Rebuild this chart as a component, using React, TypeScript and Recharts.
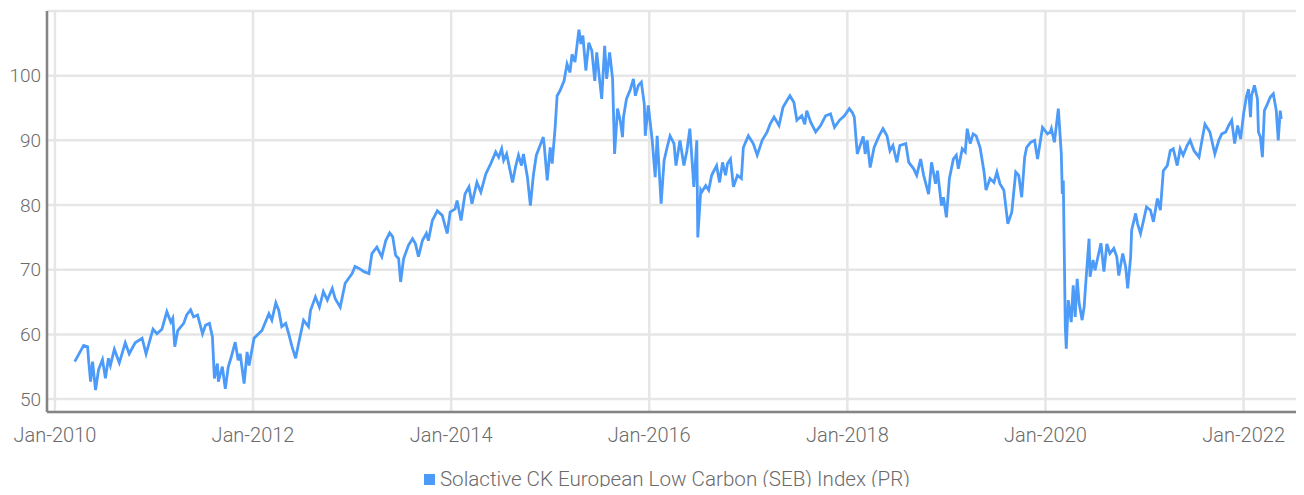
import { CartesianGrid, Legend, Line, LineChart, XAxis, YAxis } from 'recharts';

const SERIES_NAME = 'Solactive CK European Low Carbon (SEB) Index (PR)';
const LINE_BLUE = '#4c9bf8';
const INK = '#6b6b6b';
const GRID = '#e6e6e6';
const AXIS = '#858585';

const X_TICKS = [2010, 2012, 2014, 2016, 2018, 2020, 2022];
const Y_TICKS = [50, 60, 70, 80, 90, 100];

// observation dates as fractional years, one row per calendar year,
// with index levels in the same shape below
const dates = [
  2010.2, 2010.29, 2010.33, 2010.34, 2010.36, 2010.38, 2010.41, 2010.44, 2010.48, 2010.51, 2010.54, 2010.56, 2010.6, 2010.65, 2010.71, 2010.75, 2010.81, 2010.88, 2010.92, 2010.99,
  2011.03, 2011.08, 2011.13, 2011.17, 2011.19, 2011.21, 2011.24, 2011.3, 2011.33, 2011.37, 2011.4, 2011.44, 2011.49, 2011.52, 2011.56, 2011.59, 2011.61, 2011.64, 2011.65, 2011.69, 2011.72, 2011.75, 2011.78, 2011.82, 2011.85, 2011.87, 2011.91, 2011.94, 2011.96,
  2012.01, 2012.09, 2012.16, 2012.19, 2012.23, 2012.26, 2012.29, 2012.33, 2012.36, 2012.39, 2012.43, 2012.46, 2012.51, 2012.56, 2012.58, 2012.63, 2012.67, 2012.71, 2012.75, 2012.8, 2012.83, 2012.88, 2012.93,
  2013.0, 2013.03, 2013.07, 2013.12, 2013.17, 2013.2, 2013.25, 2013.3, 2013.34, 2013.38, 2013.41, 2013.44, 2013.47, 2013.49, 2013.52, 2013.57, 2013.61, 2013.64, 2013.67, 2013.71, 2013.75, 2013.77, 2013.81, 2013.86, 2013.91, 2013.96, 2013.99,
  2014.04, 2014.06, 2014.1, 2014.14, 2014.18, 2014.21, 2014.26, 2014.3, 2014.35, 2014.4, 2014.45, 2014.48, 2014.51, 2014.53, 2014.56, 2014.62, 2014.65, 2014.68, 2014.71, 2014.73, 2014.77, 2014.8, 2014.83, 2014.86, 2014.89, 2014.93, 2014.94, 2014.97,
  2015.0, 2015.02, 2015.05, 2015.07, 2015.1, 2015.14, 2015.17, 2015.2, 2015.22, 2015.25, 2015.29, 2015.31, 2015.33, 2015.36, 2015.39, 2015.42, 2015.45, 2015.47, 2015.5, 2015.52, 2015.55, 2015.57, 2015.6, 2015.63, 2015.65, 2015.68, 2015.71, 2015.73, 2015.74, 2015.77, 2015.81, 2015.84, 2015.86, 2015.89, 2015.92, 2015.95, 2015.96, 2015.99,
  2016.03, 2016.06, 2016.08, 2016.12, 2016.15, 2016.18, 2016.21, 2016.25, 2016.27, 2016.31, 2016.35, 2016.38, 2016.41, 2016.45, 2016.48, 2016.49, 2016.52, 2016.53, 2016.57, 2016.6, 2016.63, 2016.68, 2016.71, 2016.74, 2016.77, 2016.79, 2016.82, 2016.85, 2016.89, 2016.93, 2016.95,
  2017.0, 2017.05, 2017.09, 2017.14, 2017.19, 2017.22, 2017.26, 2017.31, 2017.35, 2017.38, 2017.42, 2017.46, 2017.49, 2017.54, 2017.57, 2017.59, 2017.63, 2017.68, 2017.73, 2017.78, 2017.83, 2017.87, 2017.92, 2017.97,
  2018.02, 2018.05, 2018.07, 2018.1, 2018.16, 2018.18, 2018.2, 2018.23, 2018.27, 2018.32, 2018.36, 2018.4, 2018.43, 2018.46, 2018.5, 2018.53, 2018.59, 2018.62, 2018.67, 2018.7, 2018.74, 2018.77, 2018.82, 2018.85, 2018.89, 2018.91, 2018.95, 2018.97,
  2019.0, 2019.03, 2019.07, 2019.1, 2019.12, 2019.16, 2019.19, 2019.21, 2019.24, 2019.27, 2019.3, 2019.34, 2019.38, 2019.4, 2019.44, 2019.48, 2019.51, 2019.54, 2019.58, 2019.62, 2019.66, 2019.7, 2019.73, 2019.76, 2019.79, 2019.81, 2019.85, 2019.89, 2019.92, 2019.97,
  2020.02, 2020.05, 2020.06, 2020.09, 2020.13, 2020.16, 2020.17, 2020.18, 2020.2, 2020.21, 2020.23, 2020.26, 2020.28, 2020.3, 2020.32, 2020.34, 2020.37, 2020.39, 2020.41, 2020.44, 2020.45, 2020.48, 2020.5, 2020.54, 2020.56, 2020.59, 2020.62, 2020.65, 2020.69, 2020.72, 2020.74, 2020.78, 2020.81, 2020.83, 2020.86, 2020.87, 2020.91, 2020.93, 2020.96, 2020.99,
  2021.02, 2021.06, 2021.09, 2021.13, 2021.16, 2021.19, 2021.23, 2021.26, 2021.29, 2021.33, 2021.36, 2021.39, 2021.43, 2021.46, 2021.5, 2021.55, 2021.58, 2021.61, 2021.66, 2021.71, 2021.75, 2021.78, 2021.82, 2021.85, 2021.88, 2021.91, 2021.94, 2021.97,
  2022.0, 2022.03, 2022.05, 2022.07, 2022.08, 2022.11, 2022.14, 2022.15, 2022.17, 2022.19, 2022.21, 2022.24, 2022.27, 2022.3, 2022.33, 2022.35, 2022.37, 2022.38,
];

const levels = [
  55.8, 58.3, 58.1, 56.0, 52.7, 55.8, 51.4, 54.5, 56.1, 53.2, 56.3, 55.2, 57.7, 55.6, 58.7, 57.0, 58.7, 59.4, 57.0, 60.8,
  60.1, 60.8, 63.5, 61.9, 62.5, 58.1, 60.6, 61.7, 63.0, 63.8, 62.7, 63.0, 60.1, 61.4, 61.7, 59.6, 53.2, 55.5, 52.7, 55.0, 51.6, 55.0, 56.5, 58.8, 56.0, 57.0, 52.4, 57.3, 55.2,
  59.4, 60.6, 63.2, 62.2, 64.9, 63.7, 61.2, 61.7, 60.1, 58.3, 56.3, 58.6, 62.2, 61.2, 63.7, 65.8, 64.2, 66.6, 65.3, 67.1, 65.5, 64.2, 67.9,
  69.4, 70.5, 70.2, 69.7, 69.4, 72.5, 73.5, 72.0, 74.5, 75.7, 75.1, 72.2, 71.7, 68.1, 71.7, 73.8, 74.8, 74.0, 72.0, 74.5, 75.6, 74.5, 77.6, 79.1, 78.4, 75.6, 78.9,
  79.4, 80.7, 77.6, 81.7, 82.8, 80.2, 83.5, 82.0, 84.8, 86.4, 88.2, 87.4, 88.7, 86.9, 87.9, 83.5, 85.9, 87.7, 86.1, 87.9, 84.3, 79.9, 84.6, 87.7, 88.9, 90.5, 89.2, 83.8,
  88.9, 86.4, 92.0, 96.9, 97.7, 99.2, 101.8, 100.5, 103.3, 102.1, 107.1, 104.9, 106.2, 100.8, 105.1, 103.9, 99.2, 103.6, 99.2, 96.4, 104.6, 99.5, 103.6, 99.5, 87.9, 94.9, 92.8, 90.5, 93.6, 96.4, 97.9, 99.5, 96.9, 98.5, 99.0, 95.6, 90.7, 95.4,
  90.0, 84.3, 90.7, 80.2, 86.9, 88.9, 90.7, 89.5, 86.1, 90.0, 86.1, 88.4, 91.8, 82.8, 90.0, 75.0, 82.3, 82.0, 83.0, 82.3, 84.6, 86.1, 83.5, 86.6, 84.6, 86.4, 87.1, 82.8, 84.6, 84.1, 88.9,
  90.7, 89.5, 87.7, 90.0, 91.3, 92.5, 93.6, 92.3, 95.1, 95.9, 96.9, 95.9, 93.1, 93.8, 92.5, 94.6, 92.8, 91.3, 92.3, 93.8, 94.1, 92.0, 93.1, 93.8,
  94.9, 94.3, 93.6, 87.9, 90.6, 87.9, 90.0, 85.8, 88.9, 90.7, 91.8, 90.7, 88.4, 89.2, 86.6, 89.2, 89.5, 86.6, 85.6, 84.6, 87.1, 84.6, 81.7, 86.6, 83.3, 85.3, 79.9, 81.2,
  78.1, 84.1, 87.1, 87.7, 85.6, 88.7, 88.2, 91.8, 89.5, 91.0, 90.7, 88.9, 85.1, 82.3, 84.1, 83.5, 85.1, 83.3, 82.3, 77.1, 78.9, 85.1, 84.6, 81.2, 87.4, 88.9, 89.7, 90.0, 87.1, 92.0,
  91.0, 91.3, 91.8, 89.7, 94.9, 87.9, 81.7, 83.8, 61.2, 57.8, 65.3, 61.9, 67.6, 62.7, 68.6, 64.8, 62.2, 64.2, 68.6, 74.8, 68.9, 71.5, 69.9, 72.7, 74.1, 69.7, 74.0, 72.5, 73.3, 72.0, 69.1, 72.5, 70.4, 67.1, 72.0, 76.1, 78.7, 77.1, 75.6, 77.6,
  79.7, 79.2, 77.4, 81.0, 79.2, 85.3, 86.1, 88.4, 88.7, 86.1, 88.7, 87.7, 89.2, 90.0, 88.4, 87.4, 90.0, 92.5, 91.3, 87.9, 90.0, 91.0, 91.3, 92.3, 93.1, 89.5, 92.3, 90.2,
  94.1, 96.9, 97.9, 93.6, 96.9, 98.5, 96.4, 91.3, 90.5, 87.4, 94.6, 95.6, 96.7, 97.2, 94.6, 90.0, 94.6, 93.3,
];

const rows = dates.map((t, i) => ({ t, level: levels[i] }));

const X_TEXT = { fill: INK, fontSize: 20, fontFamily: 'Roboto', fontWeight: 300 };
const Y_TEXT = { fill: INK, fontSize: 19, fontFamily: 'Roboto', fontWeight: 300 };

function LegendRow(): JSX.Element {
  return (
    <div
      style={{
        display: 'flex',
        justifyContent: 'center',
        alignItems: 'center',
        paddingTop: 29,
        paddingLeft: 22,
        height: 45,
        boxSizing: 'border-box',
        fontFamily: 'Roboto',
        fontWeight: 300,
        fontSize: 20.6,
        lineHeight: '20px',
        color: INK,
        whiteSpace: 'nowrap',
      }}
    >
      <span style={{ width: 11, height: 11, background: LINE_BLUE, marginRight: 5, display: 'inline-block' }} />
      <span>{SERIES_NAME}</span>
    </div>
  );
}

export default function App(): JSX.Element {
  return (
    <LineChart
      width={1296}
      height={479}
      data={rows}
      margin={{ top: 3, right: 0, bottom: 0, left: 0 }}
    >
      <CartesianGrid stroke={GRID} strokeWidth={2.5} />
      <XAxis
        type="number"
        dataKey="t"
        domain={[2009.92, 2022.61]}
        allowDataOverflow
        ticks={X_TICKS}
        interval={0}
        tickFormatter={(y: number) => `Jan-${y}`}
        height={30}
        tickLine={false}
        tickMargin={10}
        axisLine={{ stroke: AXIS, strokeWidth: 2.5 }}
        tick={X_TEXT}
      />
      <YAxis
        type="number"
        domain={[48, 110]}
        allowDataOverflow
        ticks={Y_TICKS}
        interval={0}
        width={39}
        tickLine={false}
        tickMargin={0}
        axisLine={{ stroke: AXIS, strokeWidth: 2.5 }}
        tick={Y_TEXT}
      />
      <Legend verticalAlign="bottom" height={45} content={() => <LegendRow />} />
      <Line
        type="linear"
        dataKey="level"
        name={SERIES_NAME}
        stroke={LINE_BLUE}
        strokeWidth={2.8}
        dot={false}
        isAnimationActive={false}
      />
    </LineChart>
  );
}
